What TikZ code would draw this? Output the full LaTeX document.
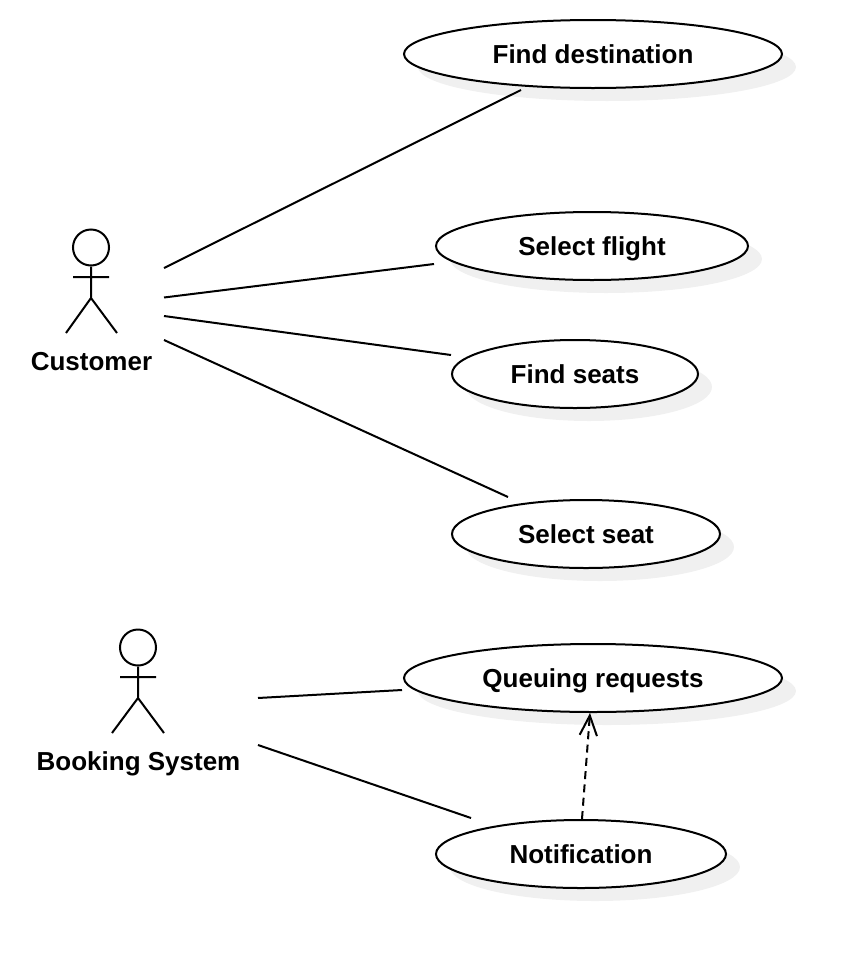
\documentclass[tikz,border=0pt]{standalone}
\usepackage{fontspec}
\setmainfont{Liberation Sans}
\usetikzlibrary{shapes.geometric,shadows,arrows.meta}
\tikzset{
  x=0.75pt,y=-0.75pt,
  usecase/.style={ellipse,draw=black,fill=white,line width=1.5pt,inner sep=0pt,minimum height=51pt,
    text depth=0pt,
    font=\bfseries\fontsize{19.5}{22}\selectfont,
    drop shadow={shadow xshift=10.5pt,shadow yshift=-9.75pt,fill=black!6,opacity=1}},
  assoc/.style={line width=1.5pt,line cap=butt},
  actorline/.style={line width=1.5pt},
  actorname/.style={font=\bfseries\fontsize{19.5}{22}\selectfont,inner sep=0pt,text depth=0pt},
  depend/.style={line width=1.5pt,dash pattern=on 6pt off 4pt,-{Straight Barb[length=15pt,width=13pt,line width=1.5pt]}}
}
\begin{document}
\begin{tikzpicture}
\useasboundingbox (0,0) rectangle (862,968);
% use cases
\node[usecase,minimum width=283.5pt] (dest) at (593,54) {Find destination};
\node[usecase,minimum width=234pt] (flight) at (592,246) {Select flight};
\node[usecase,minimum width=184.5pt] (seats) at (575,374) {Find seats};
\node[usecase,minimum width=201pt] (seat) at (586,534) {Select seat};
\node[usecase,minimum width=283.5pt] (queue) at (593,678) {Queuing requests};
\node[usecase,minimum width=217.5pt] (notif) at (581,854) {Notification};
% customer actor
\node[circle,draw,actorline,minimum size=27pt,inner sep=0pt] (chead) at (91,247.5) {};
\coordinate (chip) at (91,298);
\coordinate (carml) at (73,277);
\coordinate (carmr) at (109,277);
\coordinate (clegl) at (66,333);
\coordinate (clegr) at (117,333);
\draw[actorline] (chead.south) -- (chip) (carml) -- (carmr) (clegl) -- (chip) -- (clegr);
\node[actorname] (customer) at (91.5,361) {Customer};
% booking system actor
\node[circle,draw,actorline,minimum size=27pt,inner sep=0pt] (bhead) at (138,647.5) {};
\coordinate (bhip) at (138,698);
\coordinate (barml) at (120,677);
\coordinate (barmr) at (156,677);
\coordinate (blegl) at (112,733);
\coordinate (blegr) at (164,733);
\draw[actorline] (bhead.south) -- (bhip) (barml) -- (barmr) (blegl) -- (bhip) -- (blegr);
\node[actorname] (booking) at (138.5,761) {Booking System};
% connector ends
\coordinate (c1) at (164,268); \coordinate (d1) at (521,90);
\coordinate (c2) at (164,297.5); \coordinate (d2) at (434,264);
\coordinate (c3) at (164,316); \coordinate (d3) at (451,355);
\coordinate (c4) at (164,340); \coordinate (d4) at (508,497);
\coordinate (b1) at (258,698); \coordinate (q1) at (402,690);
\coordinate (b2) at (258,745); \coordinate (n1) at (471,818);
\coordinate (n2) at (582,819); \coordinate (q2) at (590,713);
\draw[assoc] (c1) -- (d1);
\draw[assoc] (c2) -- (d2);
\draw[assoc] (c3) -- (d3);
\draw[assoc] (c4) -- (d4);
\draw[assoc] (b1) -- (q1);
\draw[assoc] (b2) -- (n1);
\draw[depend] (n2) -- (q2);
\end{tikzpicture}
\end{document}
